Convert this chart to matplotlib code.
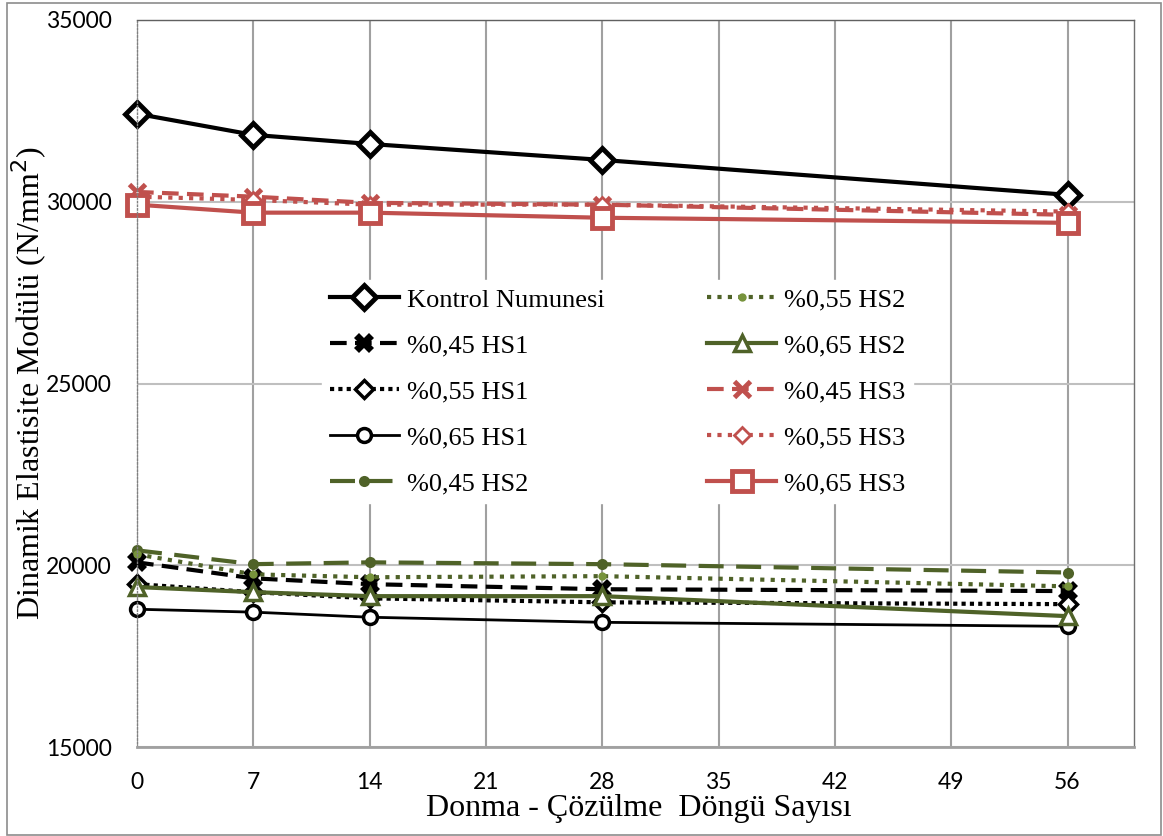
import matplotlib
matplotlib.use('Agg')
import matplotlib.pyplot as plt
from matplotlib.patches import Rectangle

# Donma-çözülme döngü sayısı
cycles = [0, 7, 14, 28, 56]

kontrol = [32420, 31840, 31590, 31150, 30190]
hs1_045 = [20080, 19640, 19480, 19340, 19290]
hs1_055 = [19480, 19260, 19090, 18980, 18930]
hs1_065 = [18790, 18710, 18570, 18430, 18320]
hs2_045 = [20410, 20030, 20080, 20030, 19800]
hs2_055 = [20300, 19750, 19670, 19700, 19420]
hs2_065 = [19400, 19260, 19150, 19150, 18600]
hs3_045 = [30270, 30140, 29970, 29920, 29640]
hs3_055 = [30140, 30050, 29920, 29920, 29730]
hs3_065 = [29920, 29700, 29700, 29560, 29420]

x_ticks = [0, 7, 14, 21, 28, 35, 42, 49, 56]
y_ticks = [15000, 20000, 25000, 30000, 35000]

BLACK = '#000000'
GREEN = '#4F6228'
RED = '#C0504D'

serif = 'Liberation Serif'
tickfont = 'Lato'

fig = plt.figure(figsize=(11.63, 8.36), dpi=100)
ax = fig.add_axes([137 / 1163, 1 - 747 / 836, (1134 - 137) / 1163, (747 - 20) / 836])

ax.plot(cycles, kontrol, color=BLACK, lw=3, marker='D', ms=12, mfc='white', mew=3.5,
        label='Kontrol Numunesi', clip_on=False)
ax.plot(cycles, hs1_045, color=BLACK, lw=3, ls=(0, (4, 2)), marker='X', ms=14, mew=0,
        label='%0,45 HS1', clip_on=False)
ax.plot(cycles, hs1_055, color=BLACK, lw=3, ls=(0, (1, 1)), marker='D', ms=9, mfc='white', mew=2.5,
        label='%0,55 HS1', clip_on=False)
ax.plot(cycles, hs1_065, color=BLACK, lw=2, marker='o', ms=10, mfc='white', mew=2.5,
        label='%0,65 HS1', clip_on=False)
ax.plot(cycles, hs2_045, color=GREEN, lw=3, ls=(0, (6, 3)), marker='o', ms=8, mew=0,
        label='%0,45 HS2', clip_on=False)
ax.plot(cycles, hs2_055, color=GREEN, lw=3, ls=(0, (1, 1.5)), marker='o', ms=6, mfc='#77933C', mew=0,
        label='%0,55 HS2', clip_on=False)
ax.plot(cycles, hs2_065, color=GREEN, lw=3, marker='^', ms=11, mfc='white', mew=2.5,
        label='%0,65 HS2', clip_on=False)
ax.plot(cycles, hs3_045, color=RED, lw=3, ls=(0, (4, 2)), marker='x', ms=11, mew=3.5,
        label='%0,45 HS3', clip_on=False)
ax.plot(cycles, hs3_055, color=RED, lw=3, ls=(0, (1, 1.5)), marker='D', ms=8, mfc='white', mew=2,
        label='%0,55 HS3', clip_on=False)
ax.plot(cycles, hs3_065, color=RED, lw=3, marker='s', ms=14, mfc='white', mew=3.5,
        label='%0,65 HS3', clip_on=False)

ax.set_xlim(0, 60)
ax.set_ylim(15000, 35000)
ax.set_xticks(x_ticks)
ax.set_yticks(y_ticks)
ax.tick_params(length=0, pad=18, labelsize=16.5)
ax.tick_params(axis='x', pad=18)
for lab in ax.get_xticklabels() + ax.get_yticklabels():
    lab.set_fontfamily(tickfont)

ax.grid(axis='x', color='#A0A0A0', lw=1.5)
ax.grid(axis='y', color='#BFBFBF', lw=1.5)
ax.set_axisbelow(True)

ax.spines['left'].set_linestyle(':')
ax.spines['left'].set_color('#808080')
ax.spines['left'].set_linewidth(1)
ax.spines['top'].set_color('#606060')
ax.spines['top'].set_linewidth(1)
ax.spines['right'].set_color('#707070')
ax.spines['right'].set_linewidth(1)
ax.spines['bottom'].set_color('#A0A0A0')
ax.spines['bottom'].set_linewidth(2)

ax.set_xlabel('Donma - Çözülme  Döngü Sayısı', fontfamily=serif, fontsize=23)
ax.set_ylabel('Dinamik Elastisite Modülü (N/mm$^2$)', fontfamily=serif, fontsize=23)
ax.xaxis.set_label_coords(0.503, -0.065)
ax.yaxis.set_label_coords(-0.088, 0.5)

leg = ax.legend(ncol=2, loc='upper left', bbox_to_anchor=(309 / 1163, 1 - 267 / 836),
                bbox_transform=fig.transFigure, prop={'family': serif, 'size': 19},
                frameon=True, framealpha=1, edgecolor='white', fancybox=False,
                handlelength=2.6, handletextpad=0.3, labelspacing=0.85, columnspacing=3.9,
                borderpad=0.3)

fig.add_artist(Rectangle((7 / 1163, 1 / 836), 1154 / 1163, 832 / 836, transform=fig.transFigure,
                         fill=False, edgecolor='#8C8C8C', lw=1.2))

fig.savefig('out.png', dpi=100)
